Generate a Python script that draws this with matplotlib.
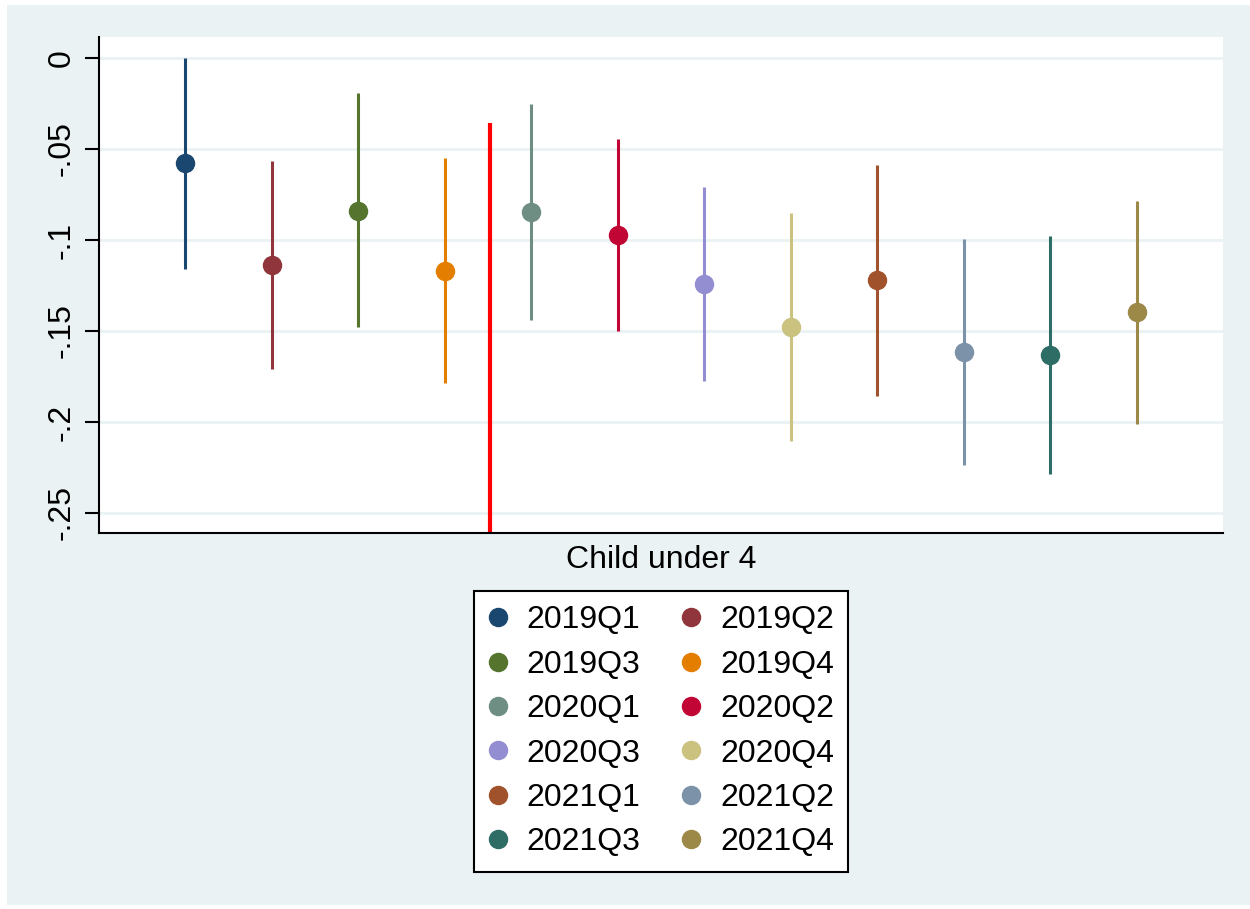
import numpy as np
import matplotlib
matplotlib.use("Agg")
import matplotlib.pyplot as plt
from matplotlib.lines import Line2D
from matplotlib.patches import Rectangle

plt.rcParams['font.family'] = ['Liberation Sans', 'DejaVu Sans']

# quarterly coefficients with 95% confidence bounds
quarters = ['2019Q1', '2019Q2', '2019Q3', '2019Q4', '2020Q1', '2020Q2',
            '2020Q3', '2020Q4', '2021Q1', '2021Q2', '2021Q3', '2021Q4']
coef = [-0.0577, -0.1137, -0.0841, -0.117, -0.0846, -0.0973,
        -0.124, -0.1478, -0.122, -0.1615, -0.163, -0.1396]
ci_hi = [0.0, -0.0566, -0.0192, -0.055, -0.0253, -0.0445,
         -0.0709, -0.085, -0.0588, -0.0995, -0.0978, -0.0786]
ci_lo = [-0.116, -0.171, -0.148, -0.1786, -0.144, -0.15,
         -0.1775, -0.2104, -0.1857, -0.2236, -0.2286, -0.201]
colors = ['#1a476f', '#90353b', '#55752f', '#e37e00', '#6e8e84', '#c10534',
          '#938dd2', '#cac27e', '#a0522d', '#7b92a8', '#2d6d66', '#9c8847']
group_label = 'Child under 4'
yticks = [0, -0.05, -0.1, -0.15, -0.2, -0.25]
ytick_labels = ['0', '-.05', '-.1', '-.15', '-.2', '-.25']
break_x = 4.52
break_top = -0.036

bg = '#eaf2f3'
fig = plt.figure(figsize=(12.5, 9.09), dpi=100, facecolor='white')
fig.patches.append(Rectangle((7 / 1250, 4 / 909), 1 - 7 / 1250, 1 - 9 / 909,
                             transform=fig.transFigure, facecolor=bg,
                             edgecolor='none', zorder=-10))

ax = fig.add_axes([99 / 1250, 1 - 533 / 909, (1223 - 99) / 1250, (533 - 37) / 909])
ax.set_facecolor('white')

x = np.arange(1, len(quarters) + 1)
handles = []
for i in range(len(quarters)):
    ax.vlines(x[i], ci_lo[i], ci_hi[i], color=colors[i], lw=2.2, zorder=3)
    ax.plot(x[i], coef[i], 'o', color=colors[i], ms=13, zorder=4)
    handles.append(Line2D([], [], ls='none', marker='o', ms=13, color=colors[i]))

ylo, yhi = -0.261, 0.0115
ax.vlines(break_x, ylo, break_top, color='#ff0000', lw=3, zorder=2)

ax.set_xlim(0, 13)
ax.set_ylim(ylo, yhi)
ax.set_yticks(yticks)
ax.set_yticklabels(ytick_labels, rotation=90, va='center', fontsize=23)
ax.set_xticks([6.5])
ax.set_xticklabels([group_label], fontsize=23)
ax.tick_params(axis='x', length=0, pad=9)
ax.tick_params(axis='y', length=10, width=1.5, pad=6)
ax.grid(axis='y', color=bg, lw=2, zorder=0)
ax.set_axisbelow(True)
for s in ['top', 'right']:
    ax.spines[s].set_visible(False)
for s in ['left', 'bottom']:
    ax.spines[s].set_linewidth(1.5)

# two columns, filled row by row
order = list(range(0, 12, 2)) + list(range(1, 12, 2))
leg = fig.legend([handles[i] for i in order], [quarters[i] for i in order],
                 ncol=2, loc='upper center', bbox_to_anchor=(661 / 1250, 1 - 591 / 909),
                 fontsize=23, frameon=True, fancybox=False, edgecolor='black',
                 framealpha=1, facecolor='white', borderaxespad=0,
                 handlelength=0.6, handletextpad=0.6, columnspacing=1.3,
                 labelspacing=0.45, borderpad=0.45)
leg.get_frame().set_linewidth(1.5)

fig.savefig('out.png', dpi=100, facecolor=fig.get_facecolor())
